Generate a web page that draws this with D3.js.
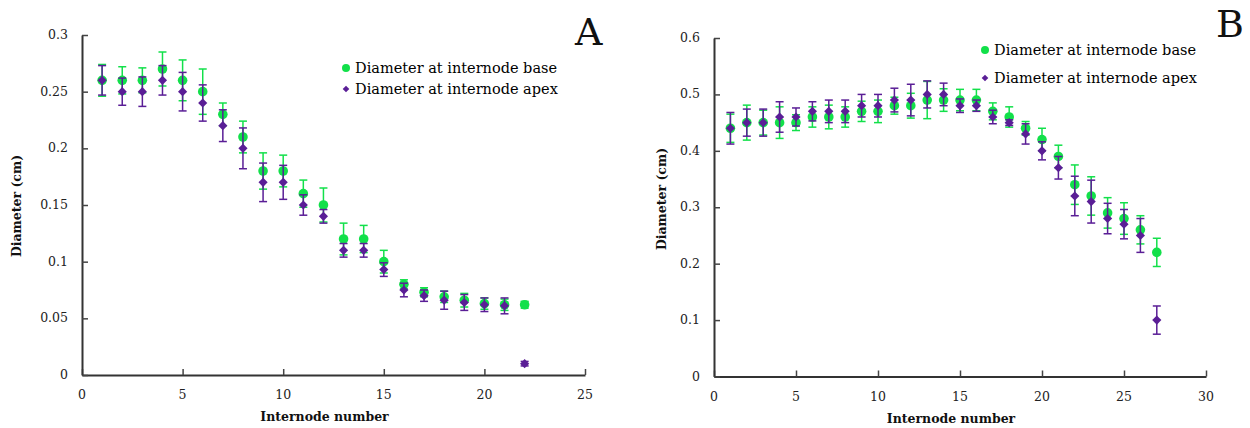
<!DOCTYPE html>
<html>
<head>
<meta charset="utf-8">
<script src="https://cdnjs.cloudflare.com/ajax/libs/d3/7.8.5/d3.min.js"></script>
<style>
  body { margin: 0; background: #fff; }
  text { font-family: "DejaVu Serif", serif; }
</style>
</head>
<body>
<div id="chart"></div>
<script>
// panel A : internode number 1..22
const nodesA = d3.range(1, 23)
const baseA = [0.26,0.26,0.26,0.27,0.26,0.25,0.23,0.21,0.18,0.18,0.16,0.15,0.12,0.12,0.10,0.08,0.073,0.069,0.066,0.063,0.062,0.062]
const baseErrA = [0.014,0.012,0.011,0.015,0.018,0.02,0.01,0.014,0.016,0.014,0.012,0.015,0.014,0.012,0.01,0.004,0.004,0.005,0.006,0.005,0.005,0.003]
const apexA = [0.26,0.25,0.25,0.26,0.25,0.24,0.22,0.20,0.17,0.17,0.15,0.14,0.11,0.11,0.093,0.075,0.07,0.066,0.064,0.062,0.061,0.01]
const apexErrA = [0.013,0.012,0.013,0.013,0.017,0.016,0.014,0.018,0.017,0.015,0.009,0.006,0.006,0.006,0.006,0.006,0.005,0.008,0.007,0.006,0.007,0.002]
const xTicksA = [0, 5, 10, 15, 20, 25]
const yTicksA = [0, 0.05, 0.1, 0.15, 0.2, 0.25, 0.3]

// panel B : internode number 1..27
const nodesB = d3.range(1, 28)
const baseB = [0.44,0.45,0.45,0.45,0.45,0.46,0.46,0.46,0.47,0.47,0.48,0.48,0.49,0.49,0.49,0.49,0.47,0.46,0.44,0.42,0.39,0.34,0.32,0.29,0.28,0.26,0.22]
const baseErrB = [0.025,0.031,0.022,0.028,0.014,0.018,0.021,0.018,0.018,0.02,0.015,0.022,0.033,0.02,0.019,0.019,0.015,0.018,0.012,0.02,0.02,0.035,0.034,0.027,0.028,0.025,0.025]
const apexB = [0.44,0.45,0.45,0.46,0.46,0.47,0.47,0.47,0.48,0.48,0.49,0.49,0.50,0.50,0.48,0.48,0.46,0.45,0.43,0.40,0.37,0.32,0.31,0.28,0.27,0.25,0.10]
const apexErrB = [0.028,0.024,0.024,0.027,0.016,0.017,0.02,0.02,0.02,0.02,0.021,0.028,0.024,0.02,0.012,0.01,0.012,0.005,0.018,0.016,0.02,0.035,0.038,0.027,0.026,0.03,0.025]
const xTicksB = [0, 5, 10, 15, 20, 25, 30]
const yTicksB = [0, 0.1, 0.2, 0.3, 0.4, 0.5, 0.6]

const seriesNames = ["Diameter at internode base", "Diameter at internode apex"]

const green = "#12e04a"
const purple = "#5a1e96"

const svg = d3.select("#chart").append("svg")
    .attr("width", 1250)
    .attr("height", 428)

function panel(opt){
  const g = svg.append("g")
  const x = d3.scaleLinear().domain(opt.xDomain).range(opt.xRange)
  const y = d3.scaleLinear().domain(opt.yDomain).range(opt.yRange)

  // axes, ticks pointing inside
  g.append("g")
      .attr("transform", "translate(0," + opt.yRange[0] + ")")
      .call(d3.axisTop(x).tickValues(opt.xTicks).tickSize(6).tickSizeOuter(0).tickFormat(""))
  g.append("g")
      .attr("transform", "translate(" + opt.xRange[0] + ",0)")
      .call(d3.axisRight(y).tickValues(opt.yTicks).tickSize(6).tickSizeOuter(0).tickFormat(""))
  g.selectAll(".domain").attr("stroke", "#333").attr("stroke-width", 2)
  g.selectAll(".tick line").attr("stroke", "#444").attr("stroke-width", 1.5)

  // tick labels
  g.selectAll("text.xlab").data(opt.xTicks).enter().append("text")
      .attr("x", d => x(d))
      .attr("y", opt.yRange[0] + 24)
      .attr("text-anchor", "middle")
      .attr("font-size", "12.5px")
      .attr("fill", "#222")
      .text(d => d)
  g.selectAll("text.ylab").data(opt.yTicks).enter().append("text")
      .attr("x", opt.xRange[0] - 14)
      .attr("y", d => y(d) + 4)
      .attr("text-anchor", "end")
      .attr("font-size", "12.5px")
      .attr("fill", "#222")
      .text(d => d)

  // axis titles
  g.append("text")
      .attr("transform", "translate(" + opt.yTitle[0] + "," + opt.yTitle[1] + ") rotate(-90)")
      .attr("text-anchor", "middle")
      .attr("font-size", "12.5px")
      .attr("font-weight", "bold")
      .attr("fill", "#111")
      .text("Diameter (cm)")
  g.append("text")
      .attr("x", (opt.xRange[0] + opt.xRange[1]) / 2 - 9)
      .attr("y", opt.yRange[0] + 46)
      .attr("text-anchor", "middle")
      .attr("font-size", "12.5px")
      .attr("font-weight", "bold")
      .attr("fill", "#111")
      .text("Internode number")

  // error bars + markers
  function errBars(vals, errs, color){
    const eb = g.append("g")
    const data = opt.nodes.map((n, i) => ({n: n, v: vals[i], e: errs[i]}))
    eb.selectAll("line.v").data(data).enter().append("line")
        .attr("x1", d => x(d.n)).attr("x2", d => x(d.n))
        .attr("y1", d => y(d.v - d.e)).attr("y2", d => y(d.v + d.e))
        .attr("stroke", color).attr("stroke-width", 1.5)
    eb.selectAll("line.t").data(data).enter().append("line")
        .attr("x1", d => x(d.n) - 4).attr("x2", d => x(d.n) + 4)
        .attr("y1", d => y(d.v + d.e)).attr("y2", d => y(d.v + d.e))
        .attr("stroke", color).attr("stroke-width", 1.5)
    eb.selectAll("line.b").data(data).enter().append("line")
        .attr("x1", d => x(d.n) - 4).attr("x2", d => x(d.n) + 4)
        .attr("y1", d => y(d.v - d.e)).attr("y2", d => y(d.v - d.e))
        .attr("stroke", color).attr("stroke-width", 1.5)
    return data
  }

  const dBase = errBars(opt.base, opt.baseErr, green)
  g.selectAll("circle.base").data(dBase).enter().append("circle")
      .attr("cx", d => x(d.n))
      .attr("cy", d => y(d.v))
      .attr("r", 4.8)
      .attr("fill", green)

  const dApex = errBars(opt.apex, opt.apexErr, purple)
  const diamond = d3.symbol().type(d3.symbolSquare).size(42)
  g.selectAll("path.apex").data(dApex).enter().append("path")
      .attr("d", diamond)
      .attr("transform", d => "translate(" + x(d.n) + "," + y(d.v) + ") rotate(45)")
      .attr("fill", purple)

  // legend
  const lg = g.append("g")
  lg.append("circle")
      .attr("cx", opt.legend[0]).attr("cy", opt.legend[1])
      .attr("r", 4).attr("fill", green)
  lg.append("path")
      .attr("d", d3.symbol().type(d3.symbolSquare).size(22))
      .attr("transform", "translate(" + opt.legend[0] + "," + (opt.legend[1] + opt.legend[2]) + ") rotate(45)")
      .attr("fill", purple)
  lg.selectAll("text").data(seriesNames).enter().append("text")
      .attr("x", opt.legend[0] + 9)
      .attr("y", (d, i) => opt.legend[1] + i * opt.legend[2] + 5)
      .attr("font-size", "14.5px")
      .attr("fill", "#000")
      .text(d => d)

  // panel letter
  g.append("text")
      .attr("x", opt.letter[0]).attr("y", opt.letter[1])
      .attr("font-family", "Liberation Serif, serif")
      .attr("font-size", "38px")
      .attr("fill", "#111")
      .text(opt.name)
}

panel({
  name: "A",
  nodes: nodesA, base: baseA, baseErr: baseErrA, apex: apexA, apexErr: apexErrA,
  xDomain: [0, 25], xRange: [82, 585],
  yDomain: [0, 0.3], yRange: [375, 35],
  xTicks: xTicksA, yTicks: yTicksA,
  yTitle: [21, 206],
  legend: [346, 68, 21],
  letter: [575, 45]
})

panel({
  name: "B",
  nodes: nodesB, base: baseB, baseErr: baseErrB, apex: apexB, apexErr: apexErrB,
  xDomain: [0, 30], xRange: [714, 1206],
  yDomain: [0, 0.6], yRange: [376.5, 38],
  xTicks: xTicksB, yTicks: yTicksB,
  yTitle: [666, 199],
  legend: [985, 50, 28],
  letter: [1216, 37]
})
</script>
</body>
</html>
